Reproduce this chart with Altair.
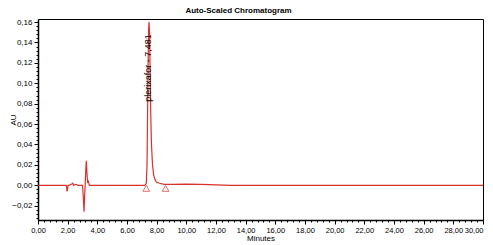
import altair as alt
import pandas as pd

# chromatogram trace (minutes, AU)
time_min = [0.0, 1.90, 1.93, 1.96, 1.99, 2.02, 2.10, 2.25, 2.35, 2.40, 2.55, 2.70,
            3.00, 3.05, 3.10, 3.14, 3.18, 3.22, 3.26, 3.30, 3.34, 3.40, 3.46, 3.60,
            7.20, 7.30, 7.35, 7.40, 7.45, 7.48, 7.52, 7.56, 7.60, 7.65, 7.72, 7.80,
            7.90, 8.00, 8.20, 8.50, 9.00, 10.0, 11.0, 12.0, 13.0, 30.0]
au = [0.0, 0.0, -0.002, -0.006, -0.004, 0.0, 0.0, 0.001, 0.002, 0.0, 0.001, 0.0,
      0.0, -0.010, -0.026, -0.012, 0.0, 0.015, 0.024, 0.012, 0.003, 0.004, 0.0, 0.0,
      0.0, 0.002, 0.020, 0.090, 0.150, 0.160, 0.150, 0.110, 0.070, 0.040, 0.020, 0.010,
      0.005, 0.003, 0.002, 0.001, 0.001, 0.0012, 0.001, 0.0005, 0.0, 0.0]

# peak integration markers
marker_time = [7.30, 8.60]
marker_au = [-0.003, -0.003]

# peak label
label_text = ["plerixafor - 7,481"]
label_time = [7.42]
label_au = [0.115]

# axis tick positions (major every 2 min / 0.02 AU, minor in between)
x_ticks = [round(i * 0.4, 1) for i in range(76)]
y_ticks = [round(-0.032 + i * 0.004, 3) for i in range(49)]

X_DOM = [0, 30]
Y_DOM = [-0.034, 0.163]

RED = "#d8322a"
FONT = "Liberation Sans"

trace = pd.DataFrame({"t": time_min, "au": au})
markers = pd.DataFrame({"t": marker_time, "au": marker_au})
labels = pd.DataFrame({"t": label_time, "au": label_au, "txt": label_text})

x_major_test = "abs(datum.value / 2 - round(datum.value / 2)) < 0.01"
y_major_test = "abs(datum.value / 0.02 - round(datum.value / 0.02)) < 0.01"
x_fmt = f"{x_major_test} ? replace(format(datum.value, '.2f'), '.', ',') : ''"
y_fmt = f"{y_major_test} ? replace(format(datum.value, '.2f'), '.', ',') : ''"

xs = alt.Scale(domain=X_DOM, nice=False, zero=False)
ys = alt.Scale(domain=Y_DOM, nice=False, zero=False)

common = dict(grid=False, domainColor="black", tickColor="black", domainWidth=1.5,
              labelFont=FONT, labelColor="black", titleFont=FONT,
              titleFontSize=8, titleFontWeight="normal", labelPadding=2,
              labelOverlap=False, labelFlush=False, tickCount=500)

line = alt.Chart(trace).mark_line(color=RED, strokeWidth=1.2).encode(
    x=alt.X("t:Q", scale=xs,
            axis=alt.Axis(values=x_ticks, labelExpr=x_fmt, title="Minutes",
                          tickSize=alt.condition(x_major_test, alt.value(4), alt.value(2)),
                          labelAlign=alt.condition("datum.value > 29.9", alt.value("right"),
                                                   alt.value("center")),
                          labelFontSize=7.5, titlePadding=1, **common)),
    y=alt.Y("au:Q", scale=ys,
            axis=alt.Axis(values=y_ticks, labelExpr=y_fmt, title="AU",
                          tickSize=alt.condition(y_major_test, alt.value(4), alt.value(2)),
                          labelFontSize=8, titleX=-21, **common)),
)

tri = alt.Chart(markers).mark_point(shape="triangle-up", color=RED, filled=False,
                                    size=45, strokeWidth=1).encode(
    x=alt.X("t:Q", scale=xs), y=alt.Y("au:Q", scale=ys))

txt = alt.Chart(labels).mark_text(angle=270, fontSize=9, font=FONT, color="black",
                                  align="center", baseline="middle").encode(
    x=alt.X("t:Q", scale=xs), y=alt.Y("au:Q", scale=ys), text="txt:N")

chart = alt.layer(line, tri, txt).properties(
    width=445, height=201,
    title=alt.TitleParams("Auto-Scaled Chromatogram", fontSize=8, font=FONT,
                          fontWeight="bold", anchor="middle", dx=-22, offset=3,
                          color="black"),
    autosize=alt.AutoSizeParams(type="none"),
    padding={"left": 30, "top": 11, "right": 2, "bottom": 25},
).configure_view(stroke="black", strokeWidth=1)

chart.save("out.html", embed_options={"renderer": "svg", "actions": False})
